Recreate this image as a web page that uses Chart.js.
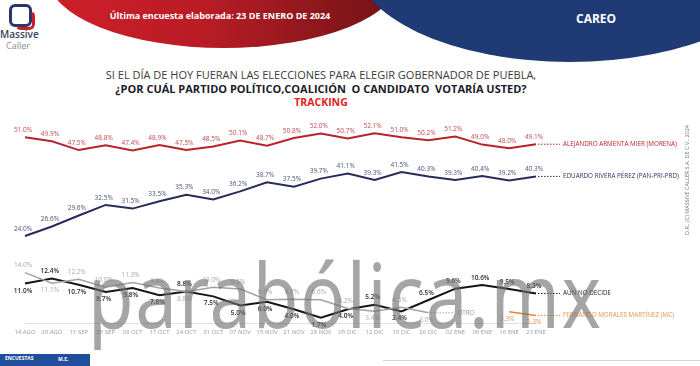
<!DOCTYPE html>
<html>
<head>
<meta charset="utf-8">
<script src="https://cdn.jsdelivr.net/npm/chart.js@4.4.1/dist/chart.umd.min.js"></script>
<style>
  body { margin: 0; width: 700px; height: 366px; overflow: hidden; background: #fff; position: relative; font-family: "Open Sans", sans-serif; }
  .abs { position: absolute; }
  #rojo { left: 48px; top: -70px; width: 352px; height: 118px; border-radius: 0 0 50% 50% / 0 0 60% 60%;
          background: linear-gradient(90deg, #cf1f2a 0%, #b81c25 45%, #6f1317 100%); }
  #azul { left: 355px; top: -140px; width: 430px; height: 202px; border-radius: 50%; background: #1f3a74; }
  #fecha { left: 65px; width: 310px; top: 9px; text-align: center; color: #fff; font-weight: 700; font-size: 9px; }
  #careo { left: 576px; top: 10px; color: #fff; font-weight: 700; font-size: 12px; }
  #titulo1 { left: 0; width: 642px; top: 67px; text-align: center; color: #3a3a3a; font-size: 11px; }
  #titulo2 { left: 0; width: 642px; top: 81px; text-align: center; color: #1b1b2a; font-size: 11px; font-weight: 700; }
  #titulo3 { left: 0; width: 642px; top: 95px; text-align: center; color: #e3201b; font-size: 10.5px; font-weight: 700; }
  #derechos { left: 627px; top: 176px; width: 120px; text-align: center; font-size: 5.5px; color: #7a7a7a; transform: rotate(-90deg); white-space: nowrap; }
  #marca { left: 88px; top: 232px; font-size: 90px; color: rgba(110,110,110,0.62); font-weight: 400; letter-spacing: 2px; white-space: nowrap; transform-origin: 0 0; font-family: "Noto Sans", sans-serif; }
  #caja { left: 0; top: 354px; width: 90px; height: 12px; background: #1f4e9c; color: #fff; font-size: 5px; font-weight: 700; }
  #linea { left: 383px; top: 360px; width: 317px; height: 1px; background: #d6d6d6; }
  canvas { position: absolute; left: 0; top: 110px; }
</style>
</head>
<body>
<div id="rojo" class="abs"></div>
<div id="azul" class="abs"></div>
<div id="fecha" class="abs">Última encuesta elaborada: 23 DE ENERO DE 2024</div>
<div id="careo" class="abs">CAREO</div>

<!-- logo -->
<div class="abs" style="left:9px;top:4px;width:17px;height:17px;border:3px solid #2b3566;border-radius:6px;"></div>
<div class="abs" style="left:15px;top:10px;width:14px;height:14px;border:3px solid #c8202a;border-radius:6px;border-left-color:transparent;border-top-color:transparent;"></div>
<div class="abs" style="left:0;top:27px;font-size:10px;color:#3a3f5c;font-weight:600;">Massive</div>
<div class="abs" style="left:6px;top:39px;font-size:9px;color:#8a8a8a;">Caller</div>

<div id="titulo1" class="abs">SI EL DÍA DE HOY FUERAN LAS ELECCIONES PARA ELEGIR GOBERNADOR DE PUEBLA,</div>
<div id="titulo2" class="abs">¿POR CUÁL PARTIDO POLÍTICO,COALICIÓN&nbsp; O CANDIDATO&nbsp; VOTARÍA USTED?</div>
<div id="titulo3" class="abs">TRACKING</div>

<canvas id="grafica" width="700" height="240"></canvas>

<div id="derechos" class="abs">D.R., (C) MASSIVE CALLER S.A. DE C.V., 2024</div>
<div id="marca" class="abs">parabólica.mx</div>
<div id="caja" class="abs"><span style="position:absolute;left:5px;top:1px;">ENCUESTAS</span><span style="position:absolute;left:58px;top:2px;">M.E.</span></div>
<div id="linea" class="abs"></div>

<script>
const fechas = ['14 AGO', '28 AGO', '11 SEP', '25 SEP', '09 OCT', '17 OCT', '24 OCT', '31 OCT', '07 NOV', '15 NOV',
  '21 NOV', '28 NOV', '05 DIC', '12 DIC', '19 DIC', '26 DIC', '02 ENE', '09 ENE', '16 ENE', '23 ENE'];

const armenta = [51.0, 49.9, 47.5, 48.8, 47.4, 48.9, 47.5, 48.5, 50.1, 48.7, 50.8, 52.0, 50.7, 52.1, 51.0, 50.2, 51.2, 49.0, 48.0, 49.1];
const rivera = [24.0, 26.6, 29.6, 32.5, 31.5, 33.5, 35.3, 34.0, 36.2, 38.7, 37.5, 39.7, 41.1, 39.3, 41.5, 40.3, 39.3, 40.4, 39.2, 40.3];
const noDecide = [11.0, 12.4, 10.7, 8.7, 9.8, 7.8, 8.8, 7.5, 5.0, 6.0, 4.0, 1.7, 4.0, 5.2, 3.4, 6.5, 9.6, 10.6, 9.5, 8.3];
const otro = [14.0, 11.1, 12.2, 10.0, 11.3, 9.8, 8.8, 10.0, 9.5, 6.6, 6.7, 6.6, 4.2, 3.4, 4.5, 3.0, null, null, null, null];
const morales = [null, null, null, null, null, null, null, null, null, null, null, null, null, null, null, null, null, null, 3.3, 2.3];

const nombres = ['ALEJANDRO ARMENTA MIER (MORENA)', 'EDUARDO RIVERA PÉREZ (PAN-PRI-PRD)', 'AÚN NO DECIDE', 'OTRO', 'FERNANDO MORALES MARTÍNEZ (MC)'];

// lado de la etiqueta: 'a' arriba, 'b' abajo
const ladoNoDecide = ['b', 'a', 'b', 'b', 'b', 'b', 'a', 'b', 'b', 'b', 'b', 'b', 'b', 'a', 'b', 'a', 'a', 'a', 'a', 'a'];
const ladoOtro = ['a', 'b', 'a', 'a', 'a', 'a', 'b', 'a', 'a', 'a', 'a', 'a', 'a', 'b', 'a', 'b'];

const fuente = '"Open Sans", sans-serif';

// etiquetas de valores y nombres al final de cada serie
const etiquetas = {
  id: 'etiquetas',
  afterDatasetsDraw(chart) {
    const ctx = chart.ctx;
    chart.data.datasets.forEach((ds, i) => {
      const meta = chart.getDatasetMeta(i);
      let ultimo = null;
      ctx.save();
      ctx.font = (ds.negrita ? '600 ' : '') + '6.5px ' + fuente;
      ctx.fillStyle = ds.colorTexto;
      ctx.textAlign = 'center';
      meta.data.forEach((pt, j) => {
        const v = ds.data[j];
        if (v == null) return;
        ultimo = pt;
        const abajo = ds.lados ? ds.lados[j] === 'b' : ds.abajo;
        ctx.textBaseline = abajo ? 'top' : 'bottom';
        ctx.fillText(v.toFixed(1) + '%', pt.x - 2, abajo ? pt.y + 4 : pt.y - 4);
      });
      if (ultimo) {
        ctx.strokeStyle = ds.borderColor;
        ctx.lineWidth = 1;
        ctx.setLineDash([1.5, 1.5]);
        ctx.beginPath();
        ctx.moveTo(ultimo.x + 2, ultimo.y);
        ctx.lineTo(ultimo.x + ds.guia, ultimo.y);
        ctx.stroke();
        ctx.setLineDash([]);
        ctx.font = '6.3px ' + fuente;
        ctx.fillStyle = ds.colorNombre;
        ctx.textAlign = 'left';
        ctx.textBaseline = 'middle';
        ctx.fillText(ds.label, ultimo.x + ds.guia + 3, ultimo.y);
      }
      ctx.restore();
    });
  }
};

new Chart(document.getElementById('grafica'), {
  type: 'line',
  data: {
    labels: fechas,
    datasets: [
      { label: nombres[3], data: otro, borderColor: '#a3a3a3', borderWidth: 1.5, colorTexto: '#a8a8a8', colorNombre: '#9a9a9a', lados: ladoOtro, guia: 26 },
      { label: nombres[2], data: noDecide, borderColor: '#151515', borderWidth: 2, colorTexto: '#2a2a2a', colorNombre: '#222', lados: ladoNoDecide, negrita: true, guia: 24 },
      { label: nombres[0], data: armenta, borderColor: '#b8232b', borderWidth: 2, colorTexto: '#c24a4e', colorNombre: '#b8232b', abajo: false, guia: 24 },
      { label: nombres[1], data: rivera, borderColor: '#262b5c', borderWidth: 2, colorTexto: '#4c5277', colorNombre: '#2e3463', abajo: false, guia: 24 },
      { label: nombres[4], data: morales, borderColor: '#e8843c', borderWidth: 1.5, colorTexto: '#ec9250', colorNombre: '#ec9250', abajo: true, guia: 24 }
    ]
  },
  options: {
    responsive: false,
    animation: false,
    spanGaps: false,
    elements: { point: { radius: 0 }, line: { tension: 0 } },
    layout: { padding: { left: 25, right: 164, top: 9, bottom: 9 } },
    plugins: { legend: { display: false }, tooltip: { enabled: false } },
    scales: {
      x: {
        offset: false,
        grid: { display: false, drawTicks: false },
        border: { color: '#e0e0e0' },
        ticks: { color: '#9a9a9a', font: { size: 6, family: fuente }, padding: 5, maxRotation: 0, autoSkip: false }
      },
      y: { display: false, min: 0, max: 56 }
    }
  },
  plugins: [etiquetas]
});

// ajustar la marca de agua al ancho del original
const marca = document.getElementById('marca');
marca.style.transform = 'scaleX(' + (515 / marca.offsetWidth) + ')';
</script>
</body>
</html>
